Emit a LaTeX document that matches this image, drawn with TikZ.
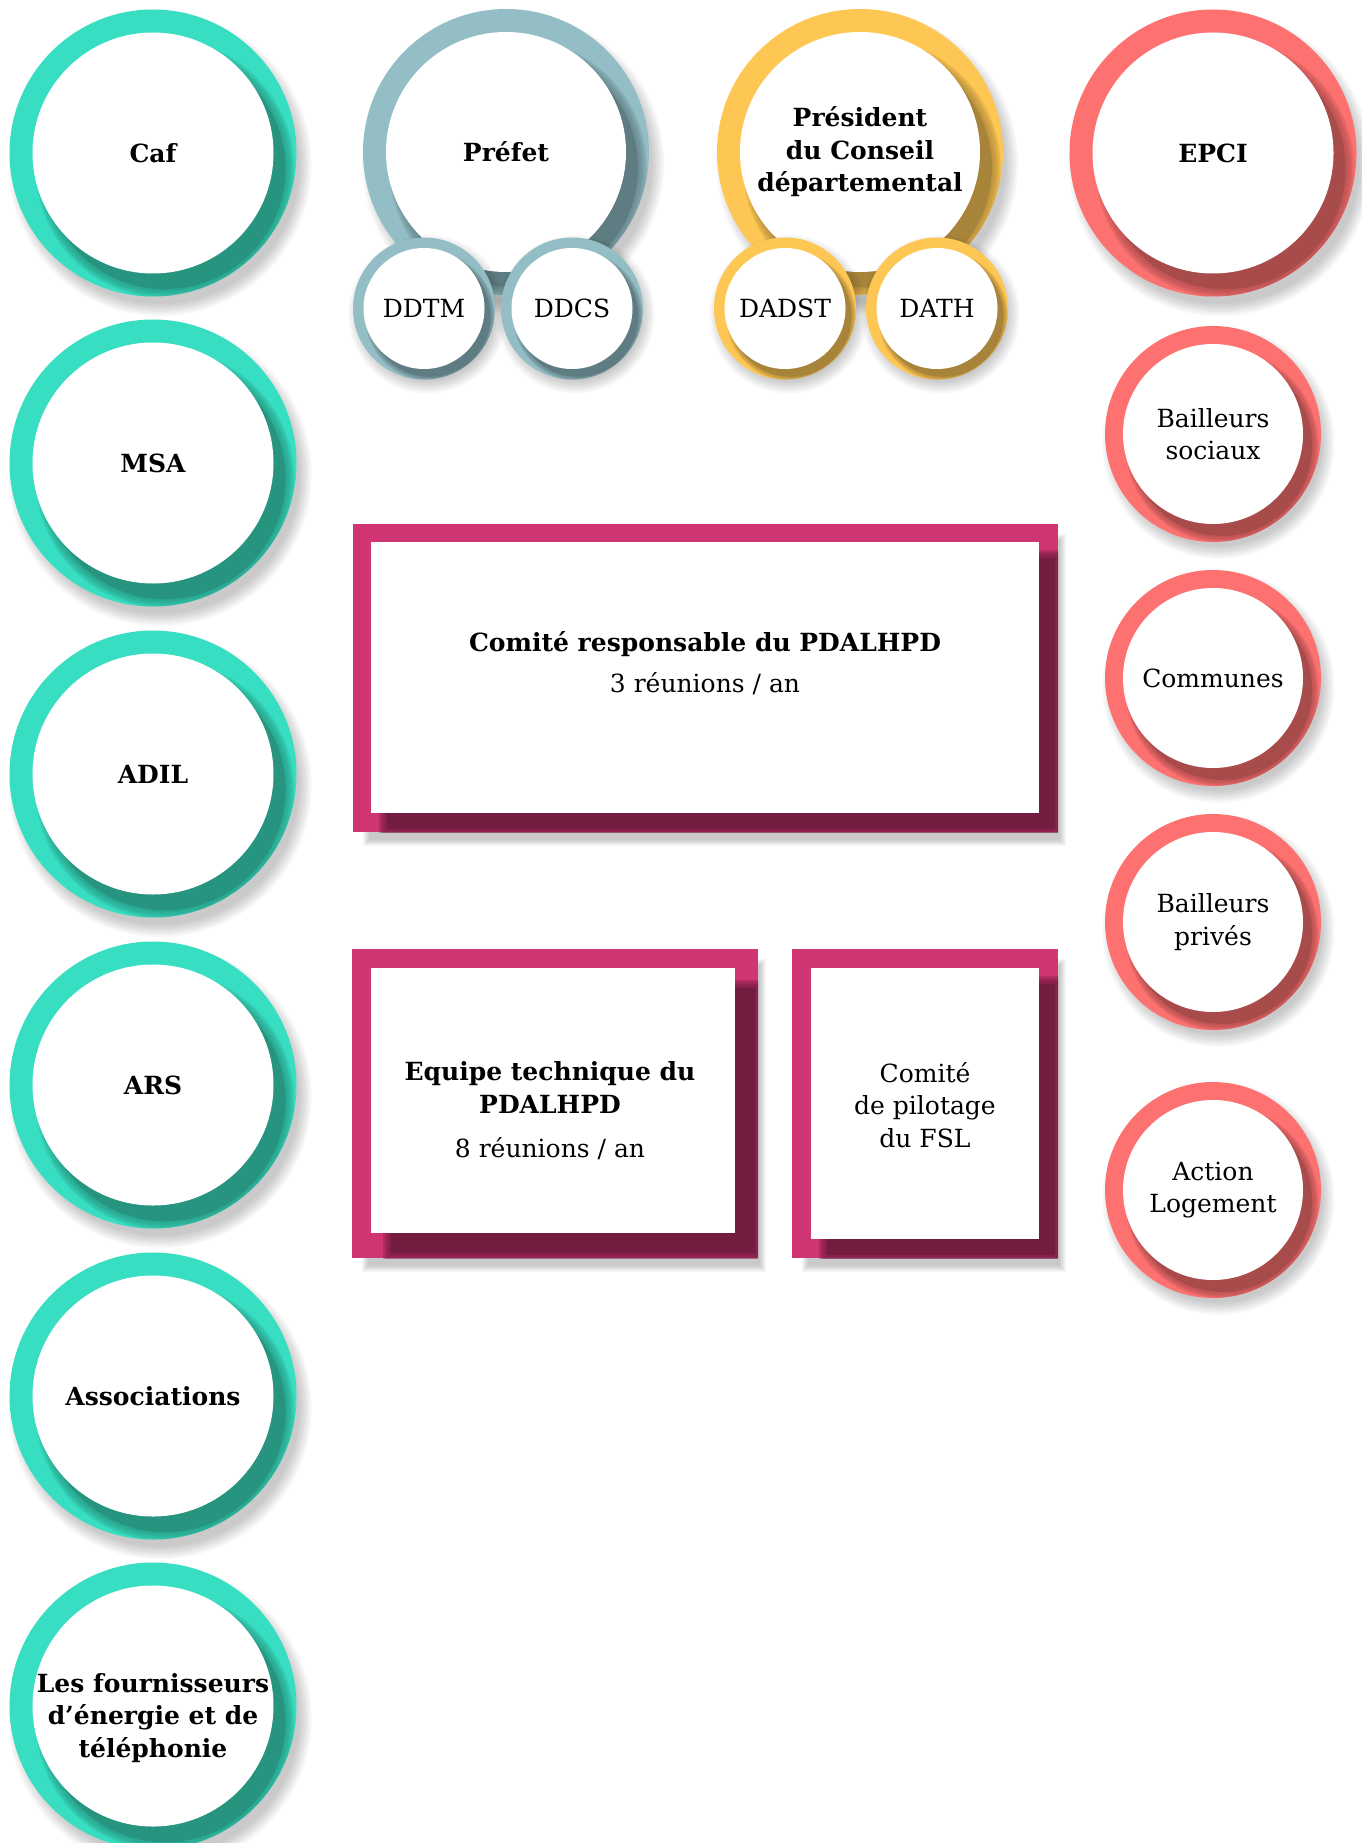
\documentclass[tikz,border=0pt]{standalone}
\usepackage{fontspec}
\setmainfont{DejaVu Serif}
\definecolor{tealL}{HTML}{38DEC2}
\definecolor{tealD}{HTML}{26947F}
\definecolor{blueL}{HTML}{94BEC5}
\definecolor{blueD}{HTML}{5E7C81}
\definecolor{yelL}{HTML}{FEC653}
\definecolor{yelD}{HTML}{A8843A}
\definecolor{redL}{HTML}{FE7171}
\definecolor{redD}{HTML}{A84B4B}
\definecolor{pinkL}{HTML}{CF3573}
\definecolor{pinkD}{HTML}{731C40}
\tikzset{
  lbl/.style={font=\fontsize{25}{32.5}\selectfont\bfseries, align=center, text=black},
  lbn/.style={font=\fontsize{25}{32.5}\selectfont, align=center, text=black}
}
% name, x, y, R, r, colour prefix, text, style
\newcommand\RingNode[8]{%
  \foreach \k in {0,...,6}{\fill[black,opacity=0.03] ({#2+0.05*#4},{#3+0.08*#4}) circle[radius={(#4+8-2*\k)*1pt}];}
  \fill[#6L] (#2,#3) circle[radius=#4pt];
  \begin{scope}
    \clip (#2,#3) circle[radius=#4pt];
    \foreach \f in {0.06,0.045,0.03,0.015}{\fill[#6D,opacity=0.25] ({#2+0.084*#4},{#3+0.11*#4}) circle[radius={(#5+\f*#4)*1pt}];}
    \fill[#6D] ({#2+0.084*#4},{#3+0.11*#4}) circle[radius=#5pt];
  \end{scope}
  \fill[white] (#2,#3) circle[radius=#5pt];
  \node[#8,circle,inner sep=0pt,minimum size={2*#5*1pt}] (#1) at (#2,#3) {#7};
}
% outer x1,y1,x2,y2, inner x1,y1,x2,y2, shift
\newcommand\FrameBox[9]{%
  \foreach \k in {0,...,6}{\fill[black,opacity=0.03] ({#1+10+\k},{#2+10+\k}) rectangle ({#3+8-\k},{#4+14-\k});}
  \fill[pinkL] (#1,#2) rectangle (#3,#4);
  \begin{scope}
    \clip (#1,#2) rectangle (#3,#4);
    \foreach \f in {8,6,4,2}{\fill[pinkD,opacity=0.3] ({#5+#9-\f},{#6+#9-\f}) rectangle ({#7+#9+\f},{#8+#9+\f});}
    \fill[pinkD] ({#5+#9},{#6+#9}) rectangle ({#7+#9},{#8+#9});
  \end{scope}
  \fill[white] (#5,#6) rectangle (#7,#8);
}
\begin{document}
\begin{tikzpicture}[x=1pt,y=-1pt]
\useasboundingbox (0,0) rectangle (1361,1843);
\fill[white] (0,0) rectangle (1361,1843);

% left column
\RingNode{caf}{153}{153}{143.5}{120.5}{teal}{Caf}{lbl}
\RingNode{msa}{153}{463}{143.5}{120.5}{teal}{MSA}{lbl}
\RingNode{adil}{153}{774}{143.5}{120.5}{teal}{ADIL}{lbl}
\RingNode{ars}{153}{1085}{143.5}{120.5}{teal}{ARS}{lbl}
\RingNode{asso}{153}{1396}{143.5}{120.5}{teal}{Associations}{lbl}
\RingNode{fourn}{153}{1706}{143.5}{120.5}{teal}{}{lbl}
\node[lbl] (fourntxt) at (153,1718) {Les fournisseurs\\d’énergie et de\\téléphonie};

% Prefet group
\RingNode{prefet}{506}{152}{143}{120}{blue}{Préfet}{lbl}
\RingNode{ddtm}{424}{308.5}{71}{60.5}{blue}{DDTM}{lbn}
\RingNode{ddcs}{572}{308.5}{71}{60.5}{blue}{DDCS}{lbn}

% President group
\RingNode{pcd}{860}{152}{143}{120}{yel}{Président\\du Conseil\\départemental}{lbl}
\RingNode{dadst}{785}{308.5}{71}{60.5}{yel}{DADST}{lbn}
\RingNode{dath}{937}{308.5}{71}{60.5}{yel}{DATH}{lbn}

% right column
\RingNode{epci}{1213}{153}{143.5}{120.5}{red}{EPCI}{lbl}
\RingNode{bs}{1213}{434}{108}{90}{red}{Bailleurs\\sociaux}{lbn}
\RingNode{communes}{1213}{678}{108}{90}{red}{Communes}{lbn}
\RingNode{bp}{1213}{922}{108}{90}{red}{Bailleurs\\privés}{lbn}
\RingNode{al}{1213}{1190}{108}{90}{red}{Action\\Logement}{lbn}

% boxes
\FrameBox{353}{524}{1058}{832}{371}{542}{1039}{813}{16}
\node[lbn] (comresp) at (705,663) {\textbf{Comité responsable du PDALHPD}\\[9pt]3 réunions / an};

\FrameBox{352}{949}{758}{1258}{371}{968}{735}{1233}{20}
\node[lbn] (equipe) at (550,1111) {\textbf{Equipe technique du}\\\textbf{PDALHPD}\\[12pt]8 réunions / an};

\FrameBox{792}{949}{1058}{1258}{811}{968}{1039}{1239}{16}
\node[lbn] (copil) at (925,1105) {Comité\\de pilotage\\du FSL};
\end{tikzpicture}
\end{document}
